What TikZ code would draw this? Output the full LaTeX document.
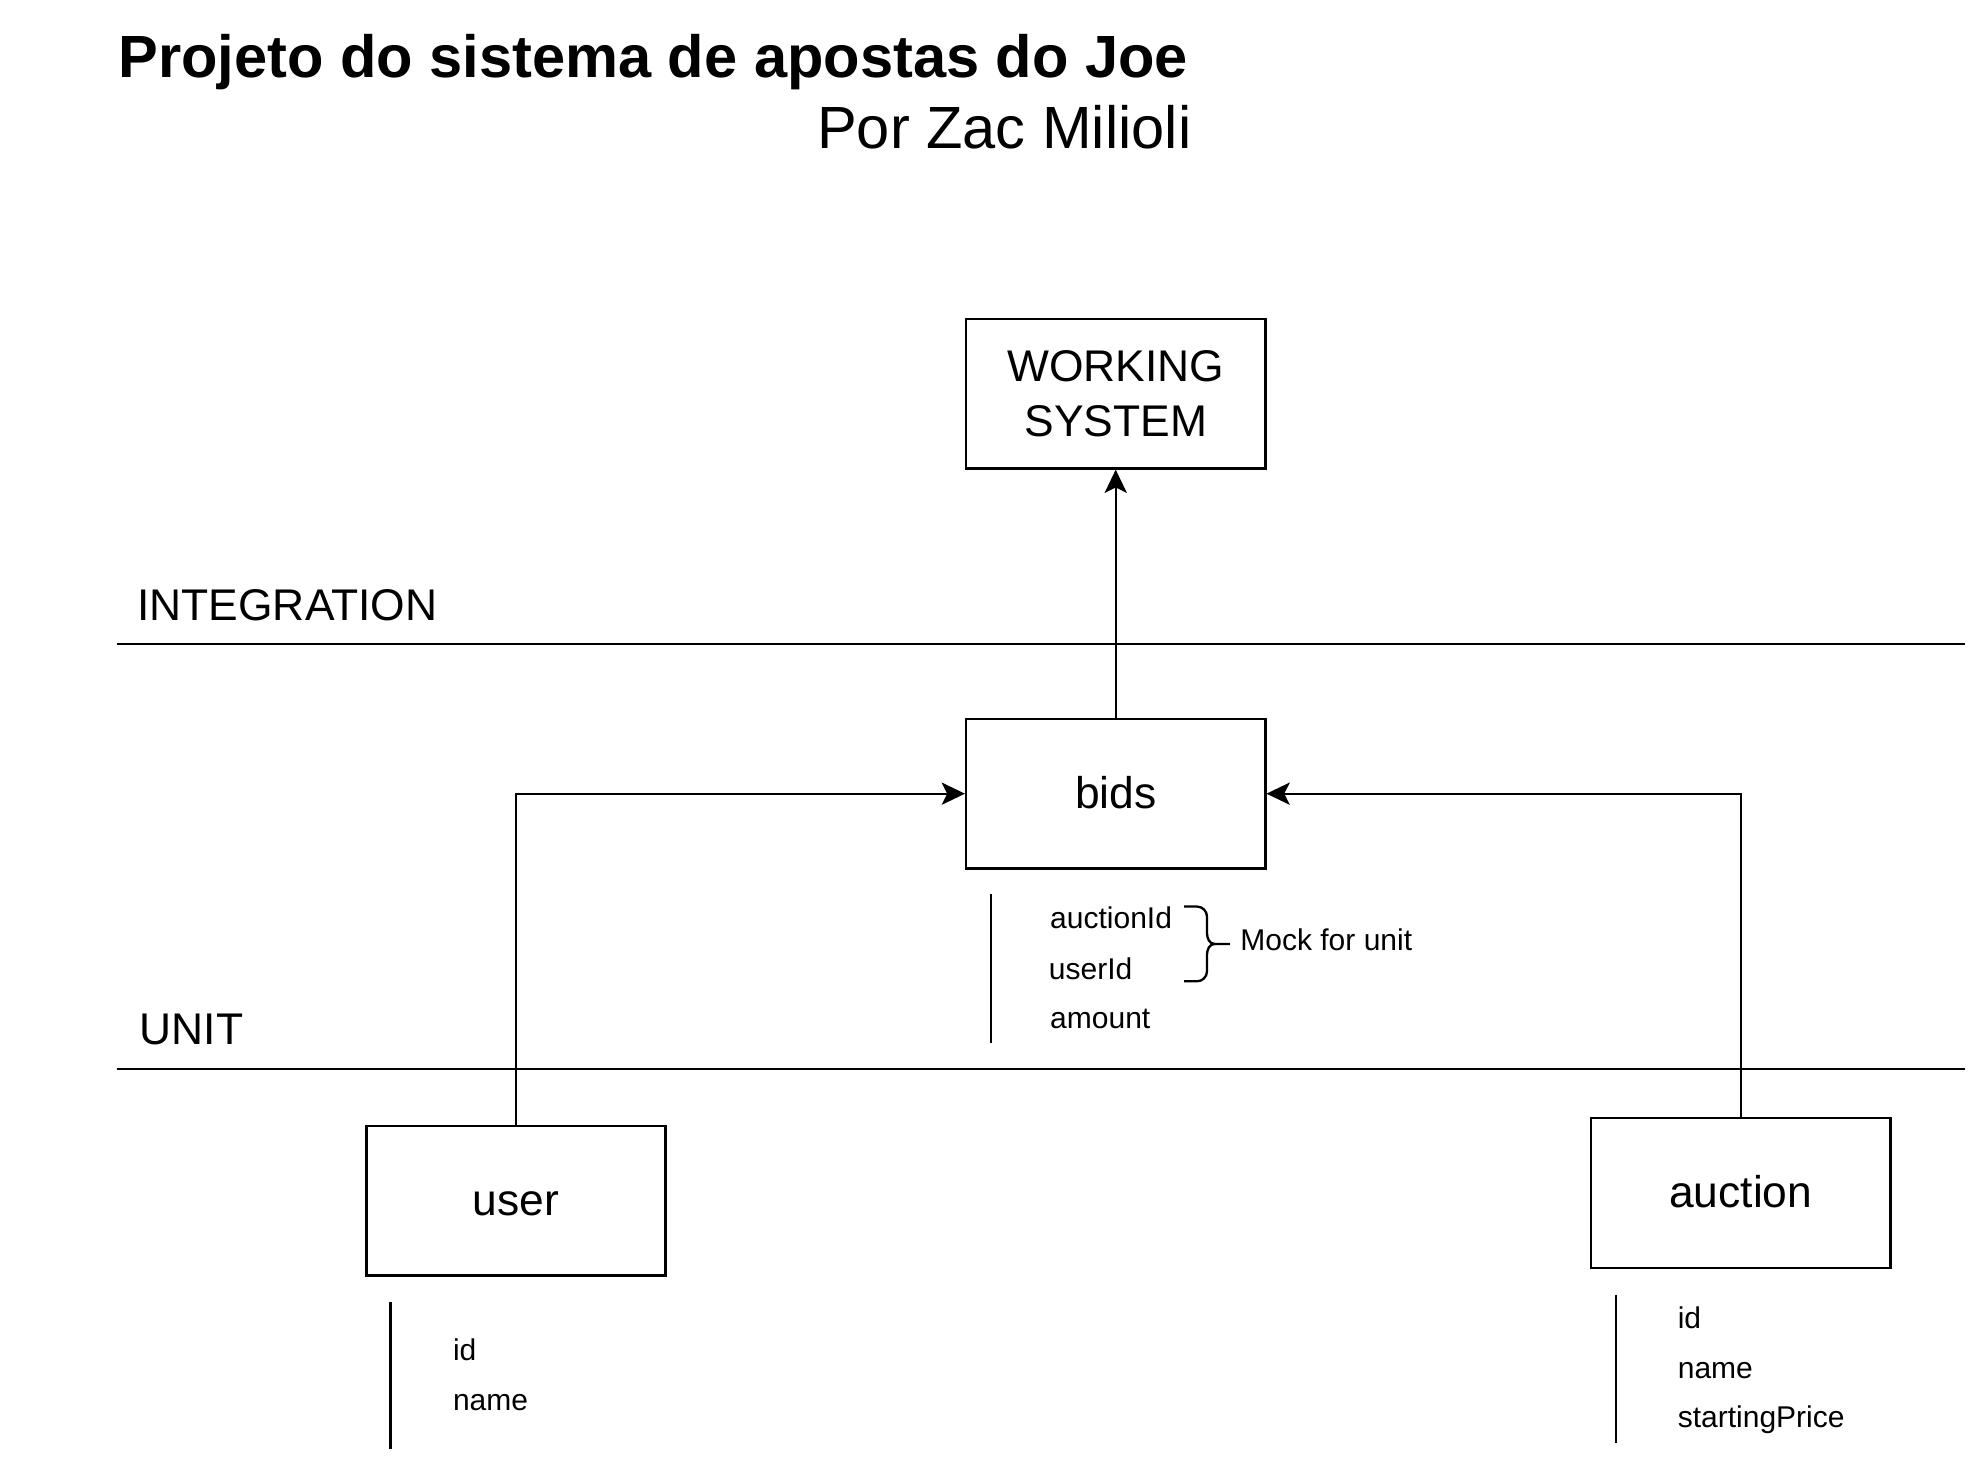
\documentclass[tikz,border=0pt]{standalone}
\usepackage{fontspec}
\setmainfont{Liberation Sans}
\usetikzlibrary{arrows.meta}
\begin{document}
\begin{tikzpicture}[x=0.6pt,y=-0.6pt,
  box/.style={draw,line width=1.1pt,minimum width=141.6pt,minimum height=70.8pt,inner sep=0pt,font=\fontsize{21}{25.8}\selectfont,align=center},
  onebox/.style={box,text height=13.6pt,text depth=0pt},
  arr/.style={line width=1.1pt,-{Stealth[length=11pt,width=10.5pt,inset=2.6pt]}},
  layer/.style={anchor=west,inner sep=0pt,font=\fontsize{21}{25}\selectfont},
  attr/.style={anchor=base west,inner sep=0pt,font=\fontsize{14.2}{17}\selectfont},
  sep/.style={line width=1.1pt},
  bar/.style={line width=1.1pt}]
\useasboundingbox (0,0) rectangle (1568,1162);
% title
\node[anchor=base west,inner sep=0pt,font=\fontsize{28.2}{34}\selectfont\bfseries] (title) at (93,61) {Projeto do sistema de apostas do Joe};
\node[anchor=base east,inner sep=0pt,font=\fontsize{28.2}{34}\selectfont] (author) at (940,117) {Por Zac Milioli};
% layer lines
\node[layer] (integ) at (108,477) {INTEGRATION};
\node[layer] (unitlbl) at (110,812) {UNIT};
\draw[sep] (92,508) -- (1550,508);
\draw[sep] (92,843) -- (1550,843);
% boxes
\node[box] (ws) at (880,310.5) {WORKING\\SYSTEM};
\node[onebox] (bids) at (880,626) {bids};
\node[onebox] (user) at (407,947) {user};
\node[onebox] (auction) at (1373,941) {auction};
% connectors
\draw[arr] (bids.north) -- (ws.south);
\draw[arr] (user.north) |- (bids.west);
\draw[arr] (auction.north) |- (bids.east);
% bids attributes
\draw[bar] (781.5,705) -- (781.5,823);
\node[attr] (a1) at (828,732.5) {auctionId};
\node[attr] (a2) at (827,772.5) {userId};
\node[attr] (a3) at (828,811.5) {amount};
\draw[line width=1.1pt] (934,715) -- (944,715) to[out=0,in=90] (952,723) -- (952,736) to[out=-90,in=180] (958,744.5) -- (970,744.5);
\draw[line width=1.1pt] (958,744.5) to[out=180,in=90] (952,753) -- (952,766) to[out=-90,in=0] (944,774) -- (934,774);
\node[attr] (mock) at (978,749.5) {Mock for unit};
% user attributes
\draw[bar] (308,1027) -- (308,1143);
\node[attr] (u1) at (357,1073) {id};
\node[attr] (u2) at (357,1112.5) {name};
% auction attributes
\draw[bar] (1274.5,1021) -- (1274.5,1138);
\node[attr] (c1) at (1323,1048) {id};
\node[attr] (c2) at (1323,1087) {name};
\node[attr] (c3) at (1323,1126) {startingPrice};
\end{tikzpicture}
\end{document}
